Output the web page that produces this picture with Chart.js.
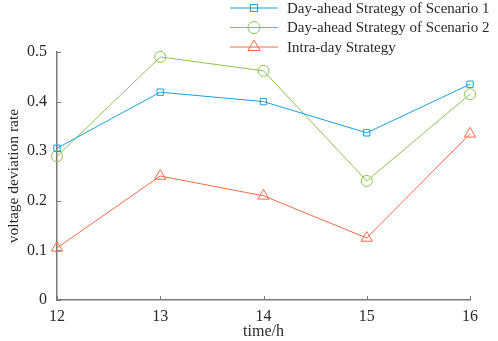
<!DOCTYPE html>
<html lang="en">
<head>
  <meta charset="UTF-8">
  <title>Voltage deviation rate</title>
  <script src="https://cdn.jsdelivr.net/npm/chart.js"></script>
  <style>
    body { margin: 0; background: #fff; }
    #wrap { width: 498px; height: 341px; }
  </style>
</head>
<body>
  <div id="wrap"><canvas id="chart"></canvas></div>

  <script>
    // chart data
    const hours = ['12', '13', '14', '15', '16'];
    const scenario1 = [0.306, 0.419, 0.400, 0.337, 0.435];
    const scenario2 = [0.290, 0.490, 0.462, 0.240, 0.415];
    const intraDay = [0.105, 0.250, 0.210, 0.125, 0.335];
    const seriesNames = ['Day-ahead Strategy of Scenario 1', 'Day-ahead Strategy of Scenario 2', 'Intra-day Strategy'];
    const yTicks = [0, 0.1, 0.2, 0.3, 0.4, 0.5];

    const FONT = '"Liberation Serif", "Times New Roman", serif';
    const AXIS = '#7a7a7a';
    const TEXT = '#2a2a2a';

    // inward tick marks (like the original figure)
    const innerTicks = {
      id: 'innerTicks',
      afterDraw(chart) {
        const ctx = chart.ctx;
        const x = chart.scales.x, y = chart.scales.y;
        ctx.save();
        ctx.strokeStyle = AXIS;
        ctx.lineWidth = 1;
        ctx.beginPath();
        yTicks.forEach(v => {
          const py = Math.round(y.getPixelForValue(v)) + 0.5;
          ctx.moveTo(x.left, py);
          ctx.lineTo(x.left + 4, py);
        });
        hours.forEach((h, i) => {
          const px = Math.round(x.getPixelForValue(i)) + 0.5;
          ctx.moveTo(px, y.bottom);
          ctx.lineTo(px, y.bottom - 4);
        });
        ctx.stroke();
        ctx.restore();
      }
    };

    // legend drawn at top right, overlapping the plot top
    const topLegend = {
      id: 'topLegend',
      afterDraw(chart) {
        const ctx = chart.ctx;
        ctx.save();
        ctx.font = '15px ' + FONT;
        ctx.textBaseline = 'middle';
        chart.data.datasets.forEach((ds, i) => {
          const cy = 8 + i * 19.5;
          ctx.strokeStyle = ds.borderColor;
          ctx.fillStyle = 'rgba(255,255,255,0)';
          ctx.lineWidth = 1;
          ctx.beginPath();
          ctx.moveTo(230, cy);
          ctx.lineTo(278, cy);
          ctx.stroke();
          Chart.helpers.drawPoint(ctx, {
            pointStyle: ds.pointStyle,
            radius: ds.pointRadius + 0.5,
            borderWidth: 1
          }, 254, cy);
          ctx.fillStyle = TEXT;
          ctx.fillText(ds.label, 287, cy + 1);
        });
        ctx.restore();
      }
    };

    function series(label, data, color, style, r) {
      return {
        label: label,
        data: data,
        borderColor: color,
        backgroundColor: color,
        borderWidth: 1,
        pointStyle: style,
        pointRadius: r,
        pointBorderWidth: 1,
        pointBorderColor: color,
        pointBackgroundColor: 'rgba(255,255,255,0)',
        clip: false,
        tension: 0,
        fill: false
      };
    }

    new Chart(document.getElementById('chart'), {
      type: 'line',
      data: {
        labels: hours,
        datasets: [
          series(seriesNames[0], scenario1, '#1a9fdc', 'rect', 4.5),
          series(seriesNames[1], scenario2, '#8cc24f', 'circle', 5.5),
          series(seriesNames[2], intraDay, '#f26a47', 'triangle', 6.5)
        ]
      },
      options: {
        responsive: true,
        maintainAspectRatio: false,
        animation: false,
        layout: { padding: { top: 52, right: 28, left: 5, bottom: 0 } },
        plugins: {
          legend: { display: false },
          tooltip: { enabled: false }
        },
        scales: {
          x: {
            offset: false,
            grid: { display: false, drawTicks: false },
            border: { display: true, color: AXIS, width: 1.5 },
            ticks: { color: TEXT, font: { family: FONT, size: 16 }, padding: 7, maxRotation: 0 },
            title: { display: true, text: 'time/h', color: TEXT, font: { family: FONT, size: 16 }, padding: { top: 1, bottom: 0 } },
            afterFit(scale) { scale.height = 41; }
          },
          y: {
            min: 0,
            max: 0.5,
            grid: { display: false, drawTicks: false },
            border: { display: true, color: AXIS, width: 1.5 },
            ticks: {
              stepSize: 0.1,
              color: TEXT,
              font: { family: FONT, size: 16 },
              padding: 10,
              callback: v => String(Math.round(v * 10) / 10)
            },
            title: { display: true, text: 'voltage deviation rate', color: TEXT, font: { family: FONT, size: 15.5 }, padding: { top: 0, bottom: 4 } },
            afterFit(scale) { scale.width = 52; }
          }
        }
      },
      plugins: [innerTicks, topLegend]
    });
  </script>
</body>
</html>
